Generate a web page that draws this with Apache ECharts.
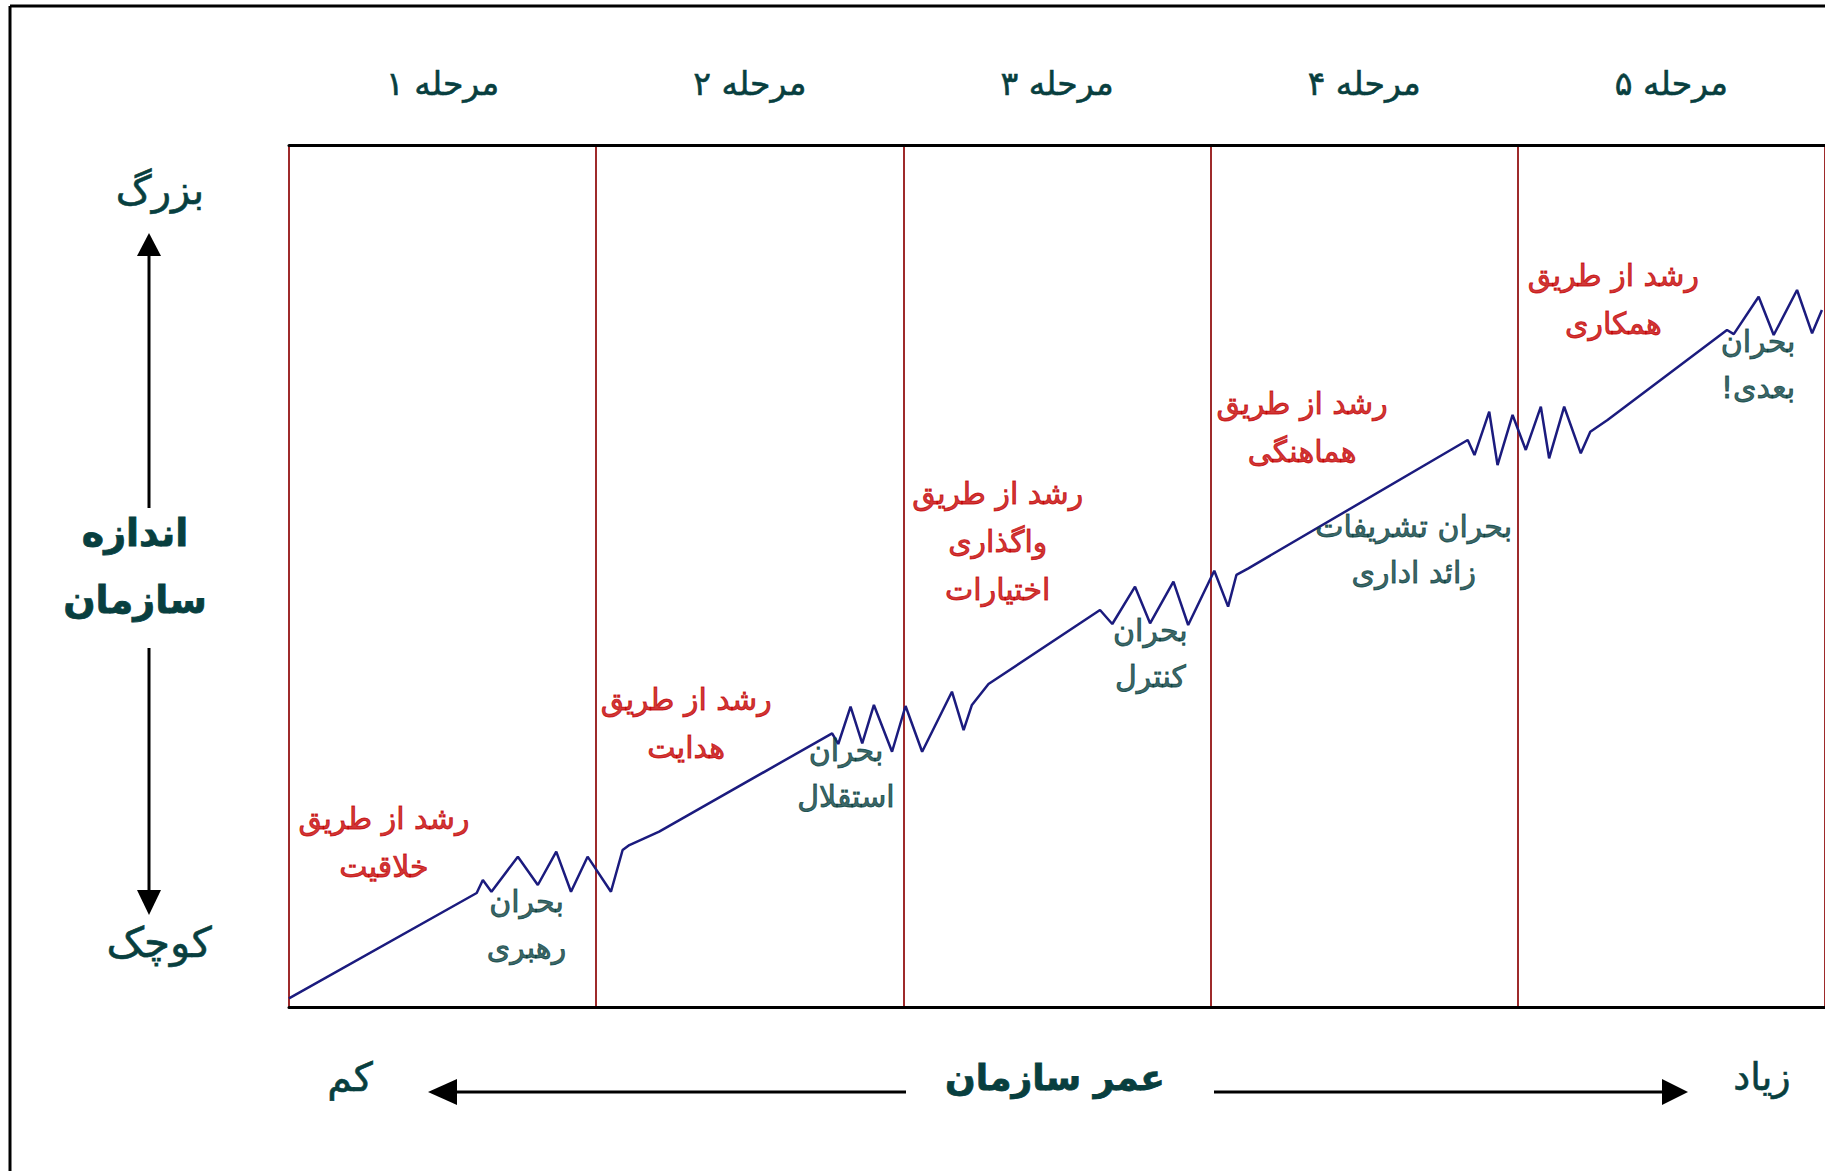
<!DOCTYPE html>
<html><head><meta charset="utf-8">
<script src="https://cdn.jsdelivr.net/npm/echarts@6/dist/echarts.min.js"></script>
<style>html,body{margin:0;padding:0;background:#fff;}#c{width:1825px;height:1171px;}</style>
</head><body><div id="c"></div>
<script>
// ---- data ----
const stageLabels = ['مرحله ۱', 'مرحله ۲', 'مرحله ۳', 'مرحله ۴', 'مرحله ۵'];
const ageX = [0, 0.611, 0.631, 0.659, 0.745, 0.810, 0.870, 0.918, 0.972, 1.048, 1.086, 1.108, 1.205,
  1.768, 1.788, 1.828, 1.866, 1.904, 1.963, 2.007, 2.061, 2.158, 2.196, 2.223, 2.277,
  2.640, 2.680, 2.754, 2.803, 2.879, 2.927, 3.012, 3.057, 3.084, 3.123,
  3.837, 3.859, 3.907, 3.934, 3.983, 4.026, 4.075, 4.102, 4.151, 4.205, 4.236, 4.292,
  4.681, 4.703, 4.784, 4.833, 4.909, 4.958, 4.990];
const sizeY = [1.0, 13.23, 14.74, 13.38, 17.45, 14.16, 18.03, 13.38, 17.45, 13.38, 18.22, 18.80, 20.35,
  31.77, 30.53, 34.86, 30.61, 35.06, 29.63, 34.94, 29.63, 36.60, 32.15, 35.06, 37.49,
  46.08, 44.46, 48.79, 44.54, 49.37, 44.34, 50.64, 46.47, 50.15, 50.92,
  65.82, 64.07, 69.10, 62.91, 68.72, 64.66, 69.68, 63.69, 69.68, 64.27, 66.78, 68.14,
  78.58, 78.11, 82.45, 78.00, 83.23, 78.20, 80.91];
const growthTexts = ['رشد از طریق\nخلاقیت', 'رشد از طریق\nهدایت', 'رشد از طریق\nواگذاری\nاختیارات', 'رشد از طریق\nهماهنگی', 'رشد از طریق\nهمکاری'];
const growthX = [0.309, 1.293, 2.307, 3.298, 4.311];
const growthY = [19.15, 32.85, 53.98, 67.21, 82.07];
const crisisTexts = ['بحران\nرهبری', 'بحران\nاستقلال', 'بحران\nکنترل', 'بحران تشریفات\nزائد اداری', 'بحران\nبعدی!\u200F'];
const crisisX = [0.773, 1.813, 2.804, 3.661, 4.782];
const crisisY = [9.63, 27.05, 41.03, 53.16, 74.58];
const sizeAxisTexts = ['بزرگ', 'اندازه\nسازمان', 'کوچک'];
const ageAxisTexts = ['کم', 'عمر سازمان', 'زیاد'];

// ---- styles ----
const FONT = '"DejaVu Sans", sans-serif';
const TEAL = '#083F3F';
const RED = '#C40000';
const NAVY = '#1B1B7E';
const STAGE_RED = '#9E2A2B';

const chart = echarts.init(document.getElementById('c'), null, {renderer: 'svg', width: 1825, height: 1171});

function txt(text, x, y, size, bold) {
  return {type: 'text', x: x, y: y, z: 10, style: {text: text, fill: TEAL, font: (bold ? 'bold ' : '') + size + 'px ' + FONT,
    stroke: TEAL, lineWidth: bold ? 0.8 : 0.6,
    textAlign: 'center', textVerticalAlign: 'middle', lineHeight: Math.round(size * 1.75)}};
}
function ln(x1, y1, x2, y2, w) {
  return {type: 'line', shape: {x1, y1, x2, y2}, style: {stroke: '#000', lineWidth: w}};
}
function tri(pts) {
  return {type: 'polygon', shape: {points: pts}, style: {fill: '#000'}};
}

chart.setOption({
  animation: false,
  backgroundColor: '#fff',
  grid: {left: 289, top: 145.5, width: 1539, height: 861.5},
  xAxis: [
    {type: 'value', min: 0, max: 5, interval: 1, position: 'bottom',
     axisLine: {show: true, lineStyle: {color: '#000', width: 3}},
     axisTick: {show: false}, axisLabel: {show: false},
     splitLine: {show: true, lineStyle: {color: STAGE_RED, width: 2}}},
    {type: 'category', data: stageLabels, position: 'top', boundaryGap: true,
     axisLine: {show: true, lineStyle: {color: '#000', width: 3}},
     axisTick: {show: false}, splitLine: {show: false},
     axisLabel: {show: true, color: TEAL, fontSize: 33, fontFamily: FONT, margin: 46,
       textBorderColor: TEAL, textBorderWidth: 0.6}}
  ],
  yAxis: {type: 'value', min: 0, max: 100, show: false},
  series: [
    {type: 'line', xAxisIndex: 0, data: ageX.map((x, i) => [x, sizeY[i]]), symbol: 'none',
     lineStyle: {color: NAVY, width: 2.5}, z: 3, silent: true},
    {type: 'scatter', xAxisIndex: 0, symbolSize: 0, silent: true, z: 5,
     data: growthTexts.map((t, i) => ({name: t, value: [growthX[i], growthY[i]]})),
     label: {show: true, position: 'inside', formatter: '{b}', color: RED, fontSize: 30, fontFamily: FONT, lineHeight: 48,
       align: 'center', verticalAlign: 'middle', textBorderColor: RED, textBorderWidth: 0.9}},
    {type: 'scatter', xAxisIndex: 0, symbolSize: 0, silent: true, z: 5,
     data: crisisTexts.map((t, i) => ({name: t, value: [crisisX[i], crisisY[i]]})),
     label: {show: true, position: 'inside', formatter: '{b}', color: TEAL, fontSize: 30, fontFamily: FONT, lineHeight: 46,
       align: 'center', verticalAlign: 'middle', textBorderColor: TEAL, textBorderWidth: 0.9}}
  ],
  graphic: {elements: [
    ln(10, 6, 10, 1171, 3),
    ln(10, 6, 1825, 6, 3),
    // size axis arrows
    ln(149, 254, 149, 508, 3),
    tri([[149, 233], [137, 256], [161, 256]]),
    ln(149, 648, 149, 892, 3),
    tri([[149, 915], [137, 890], [161, 890]]),
    // age axis arrows
    ln(455, 1092, 906, 1092, 3),
    tri([[428, 1092], [457, 1079], [457, 1105]]),
    ln(1214, 1092, 1666, 1092, 3),
    tri([[1688, 1092], [1662, 1079], [1662, 1105]]),
    txt(sizeAxisTexts[0], 160, 190, 40, false),
    txt(sizeAxisTexts[1], 135, 566, 38, true),
    txt(sizeAxisTexts[2], 159, 942, 42, false),
    txt(ageAxisTexts[0], 350, 1077, 40, false),
    txt(ageAxisTexts[1], 1055, 1077, 36, true),
    txt(ageAxisTexts[2], 1762, 1077, 38, false)
  ]}
});
</script></body></html>
